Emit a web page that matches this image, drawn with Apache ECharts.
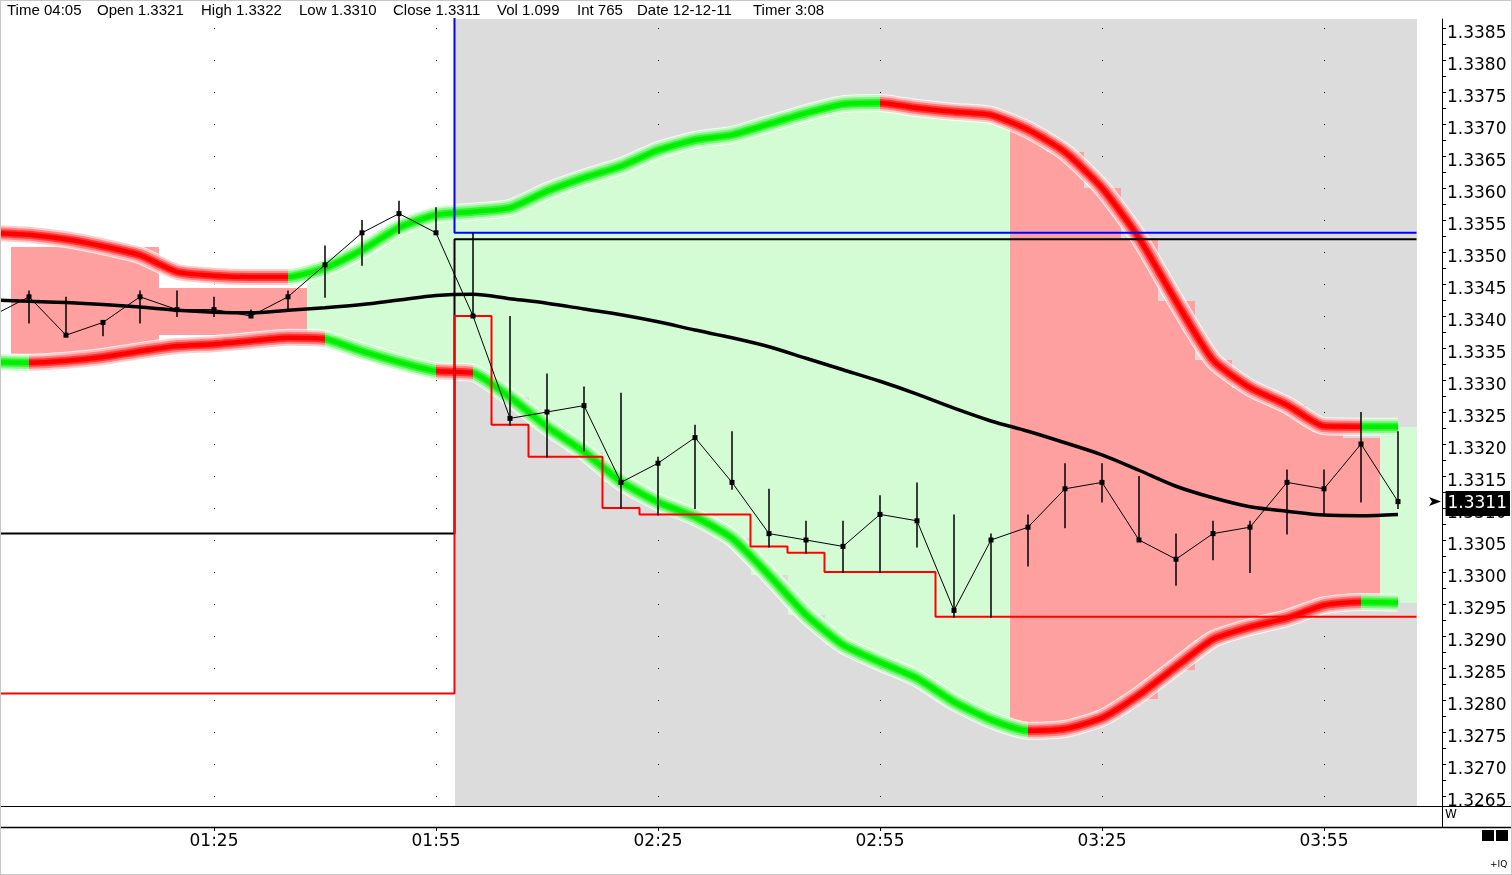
<!DOCTYPE html>
<html><head><meta charset="utf-8">
<script src="https://cdn.jsdelivr.net/npm/echarts@6/dist/echarts.min.js"></script>
<style>html,body{margin:0;padding:0;background:#fff;overflow:hidden}#c{width:1512px;height:875px}</style>
</head><body><div id="c"></div>
<script>
// ---------- DATA (5-minute bars, index -1 = 00:55 ... 37 = 04:05) ----------
const FIRST_BAR = -1;
const LAST_BAR = 37;
const SESSION_START_BAR = 12;          // 02:00
const PLOT_END_BAR = 37.5;             // right end of the drawing area

const timeTicks    = ['01:25','01:55','02:25','02:55','03:25','03:55'];
const timeTickBars = [5, 11, 17, 23, 29, 35];

const priceLabels = [1.3265,1.3270,1.3275,1.3280,1.3285,1.3290,1.3295,1.3300,1.3305,1.3310,1.3315,1.3320,
  1.3325,1.3330,1.3335,1.3340,1.3345,1.3350,1.3355,1.3360,1.3365,1.3370,1.3375,1.3380,1.3385];

const closes = [1.3340,1.3343,1.3337,1.3339,1.3343,1.3341,1.3341,1.3340,1.3343,1.3348,1.3353,1.3356,1.3353,
  1.3340,1.3324,1.3325,1.3326,1.3314,1.3317,1.3321,1.3314,1.3306,1.3305,1.3304,1.3309,1.3308,1.3294,
  1.3305,1.3307,1.3313,1.3314,1.3305,1.3302,1.3306,1.3307,1.3314,1.3313,1.3320,1.3311];
const highs = [null,1.3344,1.3343,1.3339,1.3344,1.3344,1.3343,1.3341,1.3344,1.3351,1.3355,1.3358,1.3357,
  1.3353,1.3340,1.3331,1.3329,1.3328,1.3318,1.3323,1.3322,1.3313,1.3308,1.3308,1.3312,1.3314,1.3309,
  1.3306,1.3309,1.3317,1.3317,1.3315,1.3306,1.3308,1.3308,1.3316,1.3316,1.3325,1.3322];
const lows = [null,1.3339,1.3337,1.3337,1.3339,1.3340,1.3340,1.3340,1.3341,1.3343,1.3348,1.3353,1.3353,
  1.3340,1.3323,1.3318,1.3319,1.3310,1.3309,1.3310,1.3313,1.3304,1.3303,1.3300,1.3300,1.3304,1.3293,
  1.3293,1.3301,1.3307,1.3311,1.3305,1.3298,1.3302,1.3300,1.3306,1.3309,1.3311,1.3310];

const movingAvg = [1.33425,1.33423,1.33421,1.33418,1.33414,1.33409,1.33406,1.33405,1.33409,1.33413,1.33418,
  1.33425,1.33432,1.33434,1.33427,1.33420,1.33411,1.33402,1.33391,1.33378,1.33366,1.33352,1.33334,1.33316,
  1.33298,1.33278,1.33256,1.33236,1.33220,1.33202,1.33183,1.33159,1.33134,1.33116,1.33102,1.33095,1.33089,
  1.33088,1.33090];

const upperBand = [1.33530,1.33527,1.33520,1.33509,1.33495,1.33469,1.33463,1.33461,1.33461,1.33475,1.33503,
  1.33538,1.33558,1.33563,1.33569,1.33595,1.33616,1.33634,1.33659,1.33675,1.33683,1.33700,1.33717,1.33731,
  1.33733,1.33725,1.33719,1.33714,1.33691,1.33656,1.33600,1.33522,1.33423,1.33331,1.33288,1.33261,1.33228,
  1.33227,1.33227];
const lowerBand = [1.33328,1.33327,1.33330,1.33336,1.33345,1.33353,1.33356,1.33361,1.33366,1.33364,1.33345,
  1.33328,1.33314,1.33311,1.33273,1.33227,1.33188,1.33141,1.33109,1.33086,1.33053,1.32995,1.32933,1.32886,
  1.32859,1.32834,1.32797,1.32769,1.32752,1.32755,1.32772,1.32808,1.32852,1.32895,1.32914,1.32928,1.32948,
  1.32953,1.32952];
// band colour state starting at each bar (U = green, D = red)
const upperTrend = 'DDDDDDDDUUUUUUUUUUUUUUUUDDDDDDDDDDDDDUU'.split('');
const lowerTrend = 'UDDDDDDDDUUUDUUUUUUUUUUUUUUUDDDDDDDDDUU'.split('');

// channel fill per bar (bars 0..37)
const fillTop = [1.33508,1.33508,1.33508,1.33508,1.33444,1.33444,1.33444,1.33444,
  1.33475,1.33503,1.33538,1.33558,1.33563,1.33569,1.33595,1.33616,1.33634,1.33659,1.33675,1.33683,1.33700,
  1.33717,1.33731,1.33733,1.33725,1.33719,1.33714,
  1.33691,1.33656,1.33600,1.33522,1.33423,1.33331,1.33288,1.33261,1.33228,1.33209,1.33227];
const fillBottom = [1.33341,1.33341,1.33341,1.33341,1.33370,1.33370,1.33370,1.33370,
  1.33364,1.33345,1.33328,1.33314,1.33311,1.33273,1.33227,1.33188,1.33141,1.33109,1.33086,1.33053,1.32995,
  1.32933,1.32886,1.32859,1.32834,1.32797,1.32769,
  1.32752,1.32755,1.32772,1.32802,1.32847,1.32894,1.32914,1.32928,1.32948,1.32953,1.32952];
const fillTrend = 'DDDDDDDDUUUUUUUUUUUUUUUUUUUDDDDDDDDDDU'.split('');

// session reference lines (bars -1..37)
const sessionTop = [1.3395,1.3395,1.3395,1.3395,1.3395,1.3395,1.3395,1.3395,1.3395,1.3395,1.3395,1.3395,1.3395,
  1.3353,1.3353,1.3353,1.3353,1.3353,1.3353,1.3353,1.3353,1.3353,1.3353,1.3353,1.3353,1.3353,1.3353,
  1.3353,1.3353,1.3353,1.3353,1.3353,1.3353,1.3353,1.3353,1.3353,1.3353,1.3353,1.3353];
const sessionHigh = [1.3306,1.3306,1.3306,1.3306,1.3306,1.3306,1.3306,1.3306,1.3306,1.3306,1.3306,1.3306,1.3306,
  1.3352,1.3352,1.3352,1.3352,1.3352,1.3352,1.3352,1.3352,1.3352,1.3352,1.3352,1.3352,1.3352,1.3352,
  1.3352,1.3352,1.3352,1.3352,1.3352,1.3352,1.3352,1.3352,1.3352,1.3352,1.3352,1.3352];
const sessionLow = [1.3281,1.3281,1.3281,1.3281,1.3281,1.3281,1.3281,1.3281,1.3281,1.3281,1.3281,1.3281,1.3281,
  1.3340,1.3323,1.3318,1.3318,1.3310,1.3309,1.3309,1.3309,1.3304,1.3303,1.3300,1.3300,1.3300,
  1.3293,1.3293,1.3293,1.3293,1.3293,1.3293,1.3293,1.3293,1.3293,1.3293,1.3293,1.3293,1.3293];

const header = [['Time','04:05'],['Open','1.3321'],['High','1.3322'],['Low','1.3310'],['Close','1.3311'],
  ['Vol','1.099'],['Int','765'],['Date','12-12-11'],['Timer','3:08']];

// ---------- LAYOUT / STYLE ----------
const headerX = [7, 97, 201, 299, 393, 497, 577, 637, 753];
const GRID = {left: 0, top: 19, width: 1442, height: 787};
const X_MIN = -29 / 37, X_MAX = 1413 / 37;
const Y_MIN = 1.32634375, Y_MAX = 1.338640625;
const RED = '#ff0000', GREEN = '#00ee00';
const PINK_FILL = '#ffa0a0', GREEN_FILL = '#d4fcd4', SESSION_BG = '#dcdcdc';

const bars = [];
for (let b = FIRST_BAR; b <= LAST_BAR; b++) bars.push(b);
const pairs = arr => arr.map((v, k) => [bars[k], v]);
const withEnd = arr => pairs(arr).concat([[PLOT_END_BAR, arr[arr.length - 1]]]);

function pieces(states) {
  const out = []; let runStart = 0;
  for (let k = 1; k <= states.length; k++) {
    if (k === states.length || states[k] !== states[runStart]) {
      const p = {color: states[runStart] === 'U' ? GREEN : RED};
      if (runStart > 0) p.gte = FIRST_BAR + runStart;
      if (k < states.length) p.lt = FIRST_BAR + k;
      out.push(p); runStart = k;
    }
  }
  return out;
}

const yTicks = [];
priceLabels.forEach((v, k) => { yTicks.push(v); if (k < priceLabels.length - 1) yTicks.push(+(v + 0.00025).toFixed(5)); });

const series = [];
// session background
series.push({
  type: 'custom', z: 1, silent: true,
  data: [[SESSION_START_BAR - 0.5, PLOT_END_BAR]],
  renderItem(params, api) {
    const a = api.coord([api.value(0), Y_MIN]);
    const b = api.coord([api.value(1), Y_MIN]);
    const cs = params.coordSys;
    return {type: 'rect', shape: {x: Math.round(a[0]), y: cs.y, width: Math.round(b[0]) - Math.round(a[0]), height: cs.height},
      style: {fill: SESSION_BG}};
  }
});
// channel fills
series.push({
  type: 'custom', z: 3, silent: true,
  data: fillTop.map((t, k) => [k, t, fillBottom[k], fillTrend[k] === 'U' ? 1 : 0]),
  encode: {x: 0, y: [1, 2]},
  renderItem(params, api) {
    const i = api.value(0);
    const a = api.coord([i - 0.5, api.value(1)]);
    const b = api.coord([i + 0.5, api.value(2)]);
    const x0 = Math.round(a[0]), x1 = Math.round(b[0]), y0 = Math.round(a[1]), y1 = Math.round(b[1]);
    return {type: 'rect', shape: {x: x0, y: y0, width: x1 - x0, height: y1 - y0},
      style: {fill: api.value(3) ? GREEN_FILL : PINK_FILL}};
  }
});
const LAYERS = [{w: 16, o: 0.2}, {w: 12, o: 0.35}, {w: 8, o: 0.6}, {w: 4.5, o: 1}];
function addBand(values) {
  series.push({type: 'line', data: pairs(values), smooth: 0.2, symbol: 'none', z: 4, silent: true,
    lineStyle: {width: 18, color: '#ffffff', opacity: 0.8, cap: 'butt', join: 'round'}});
  const idx = [];
  LAYERS.forEach(L => {
    idx.push(series.length);
    series.push({type: 'line', data: pairs(values), smooth: 0.2, symbol: 'none', z: 4, silent: true,
      lineStyle: {width: L.w, opacity: L.o, cap: 'butt', join: 'round'}});
  });
  return idx;
}
const upperIdx = addBand(upperBand);
const lowerIdx = addBand(lowerBand);
// session lines
[[sessionTop, '#0000ff'], [sessionHigh, '#000000'], [sessionLow, '#ff0000']].forEach(([arr, col]) => {
  series.push({type: 'line', data: withEnd(arr), step: 'middle', symbol: 'none', z: 5, silent: true,
    lineStyle: {width: 2, color: col}});
});
// moving average
series.push({type: 'line', data: pairs(movingAvg), smooth: 0.3, symbol: 'none', z: 6, silent: true,
  lineStyle: {width: 3.5, color: '#000'}});
// high-low bars
series.push({
  type: 'custom', z: 7, silent: true,
  data: bars.map((b, k) => [b, lows[k], highs[k]]).filter(d => d[1] !== null),
  encode: {x: 0, y: [1, 2]},
  renderItem(params, api) {
    const a = api.coord([api.value(0), api.value(1)]);
    const b = api.coord([api.value(0), api.value(2)]);
    return {type: 'line', shape: {x1: a[0], y1: a[1] + 1, x2: b[0], y2: b[1]}, style: {stroke: '#000', lineWidth: 1.5}};
  }
});
// close line + last price marker
const lastClose = closes[closes.length - 1];
series.push({
  type: 'line', data: pairs(closes), symbol: 'rect', symbolSize: 5, z: 8, silent: true,
  lineStyle: {width: 1, color: '#000'}, itemStyle: {color: '#000'},
  markPoint: {silent: true, label: {show: false},
    data: [
      {coord: [38, lastClose], symbol: 'path://M0,0L12,5L0,10L3,5Z', symbolSize: [12, 9], itemStyle: {color: '#000'}},
      {coord: [X_MAX, lastClose], symbol: 'rect', symbolSize: 1, itemStyle: {color: 'rgba(0,0,0,0)'},
        label: {show: true, position: 'right', distance: 3, offset: [0, 2], formatter: lastClose.toFixed(4), color: '#fff',
          backgroundColor: '#000', padding: [5, 3, 3, 2], fontSize: 17, fontFamily: 'DejaVu Sans'}}
    ]}
});

const graphic = [];
header.forEach(([k, v], n) => {
  graphic.push({type: 'text', x: headerX[n], y: 11, silent: true, z: 20,
    style: {text: k + ' ' + v, fill: '#000', font: '15px "Liberation Sans", Arial, sans-serif', verticalAlign: 'middle', textVerticalAlign: 'middle'}});
});
graphic.push(
  {type: 'line', silent: true, z: 20, shape: {x1: 0, y1: 806.5, x2: 1512, y2: 806.5}, style: {stroke: '#000', lineWidth: 1}},
  {type: 'line', silent: true, z: 20, shape: {x1: 0, y1: 827.5, x2: 1512, y2: 827.5}, style: {stroke: '#000', lineWidth: 1.5}},
  {type: 'line', silent: true, z: 20, shape: {x1: 1442.5, y1: 806, x2: 1442.5, y2: 827}, style: {stroke: '#000', lineWidth: 1}},
  {type: 'text', silent: true, z: 20, x: 1445, y: 809, style: {text: 'W', fill: '#000', font: '12px "DejaVu Sans"'}},
  {type: 'rect', silent: true, z: 20, shape: {x: 1482, y: 830, width: 12, height: 11}, style: {fill: '#000'}},
  {type: 'rect', silent: true, z: 20, shape: {x: 1496, y: 830, width: 12, height: 11}, style: {fill: '#000'}},
  {type: 'text', silent: true, z: 20, x: 1490, y: 860, style: {text: '+IQ', fill: '#000', font: '9px "DejaVu Sans"'}},
  {type: 'rect', silent: true, z: 30, shape: {x: 0, y: 0, width: 1512, height: 875}, style: {fill: 'none', stroke: '#c8c8c8', lineWidth: 2}}
);

const option = {
  animation: false,
  backgroundColor: '#fff',
  textStyle: {fontFamily: 'DejaVu Sans'},
  grid: GRID,
  xAxis: {
    type: 'value', min: X_MIN, max: X_MAX, position: 'bottom', offset: 21, z: 2,
    axisLine: {show: false, onZero: false},
    axisTick: {show: true, customValues: timeTickBars, length: 4, lineStyle: {color: '#000'}},
    axisLabel: {customValues: timeTickBars, formatter: v => timeTicks[timeTickBars.indexOf(Math.round(v))],
      color: '#000', fontSize: 17, fontFamily: 'DejaVu Sans', margin: 6},
    splitLine: {show: true, lineStyle: {color: '#000', width: 1, type: [1, 31], dashOffset: 23}}
  },
  yAxis: {
    type: 'value', position: 'right', min: Y_MIN, max: Y_MAX, z: 2,
    axisLine: {show: true, onZero: false, lineStyle: {color: '#000', width: 1}},
    axisTick: {show: true, customValues: yTicks, length: 4, inside: false, lineStyle: {color: '#000'}},
    axisLabel: {customValues: priceLabels, formatter: v => v.toFixed(4), color: '#000', fontSize: 17,
      fontFamily: 'DejaVu Sans', margin: 5, verticalAlign: 'top', lineHeight: 12},
    splitLine: {show: false}
  },
  visualMap: [
    {type: 'piecewise', show: false, dimension: 0, seriesIndex: upperIdx, pieces: pieces(upperTrend)},
    {type: 'piecewise', show: false, dimension: 0, seriesIndex: lowerIdx, pieces: pieces(lowerTrend)}
  ],
  graphic: graphic,
  series: series
};
const chart = echarts.init(document.getElementById('c'), null, {width: 1512, height: 875});
chart.setOption(option);
</script></body></html>
